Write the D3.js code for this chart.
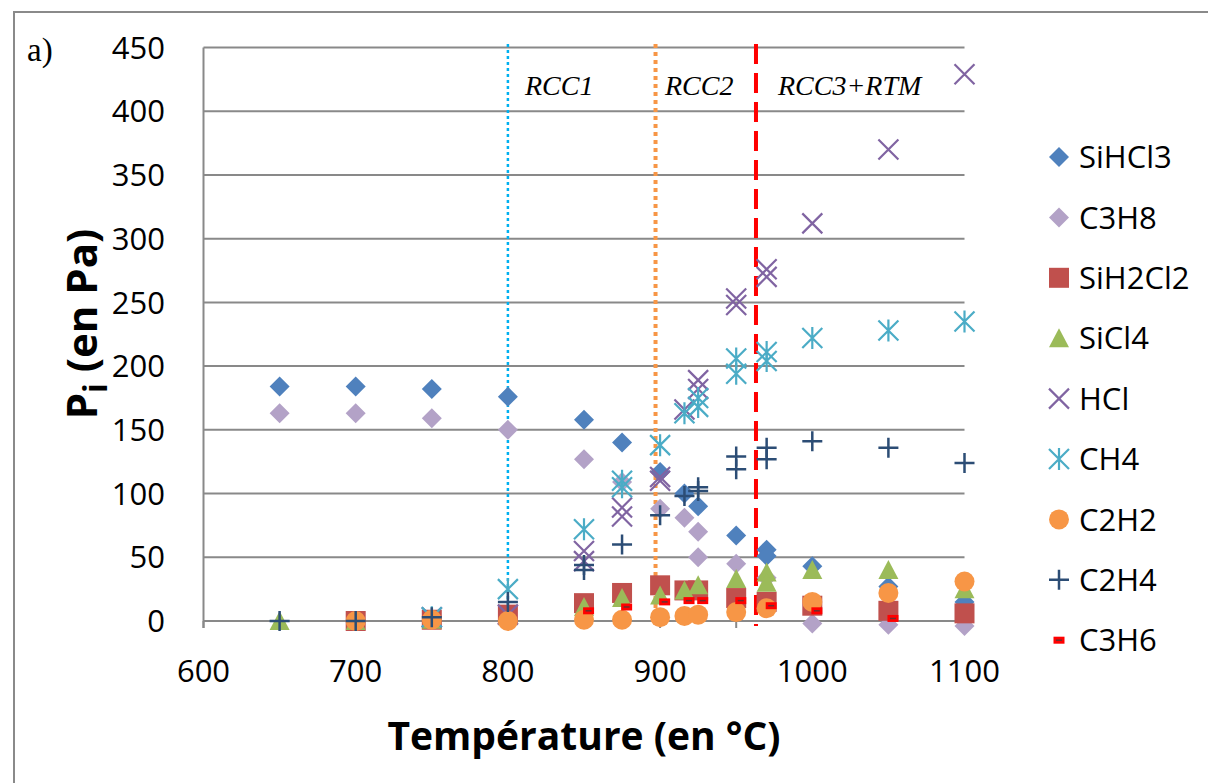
<!DOCTYPE html>
<html><head><meta charset="utf-8">
<script src="https://cdn.jsdelivr.net/npm/d3@7"></script>
<style>body{margin:0;background:#fff;}svg{display:block;}</style>
</head><body>
<svg id="chart" width="1208" height="783"></svg>
<script>
// ---- data ----
const seriesNames = ["SiHCl3","C3H8","SiH2Cl2","SiCl4","HCl","CH4","C2H2","C2H4","C3H6"];
const tSiHCl3 = [650,700,750,800,850,875,900,916,925,950,970,970,1000,1050,1100];
const vSiHCl3 = [184,184,182,176,158,140,117,100,90,67,56,51,43,27,15];
const tC3H8 = [650,700,750,800,850,875,900,916,925,925,950,970,1000,1050,1100];
const vC3H8 = [163,163,159,150,127,109,88,81,70,50,45,34,-2,-3,-4];
const tSiH2Cl2 = [700,750,800,850,875,900,916,925,950,970,1000,1050,1100];
const vSiH2Cl2 = [0,1,5,14,22,28,24,24,18,15,12,8,6];
const tSiCl4 = [650,700,750,850,875,900,916,925,950,970,970,1000,1050,1100];
const vSiCl4 = [0,0,1,11,18,20,24,28,33,38,30,40,40,25];
const tHCl = [750,800,850,850,875,875,900,900,916,925,925,950,950,970,970,1000,1050,1100];
const vHCl = [3,5,55,47,89,82,113,110,166,189,182,253,248,276,270,312,370,429];
const tCH4 = [750,800,850,875,875,900,916,925,925,950,950,970,970,1000,1050,1100];
const vCH4 = [3,25,72,110,105,138,163,175,168,206,194,211,204,222,228,235];
const tC2H2 = [700,750,800,850,875,900,916,925,950,970,1000,1050,1100];
const vC2H2 = [0,1,0,1,1,3,4,5,7,10,15,22,31];
const tC2H4 = [650,700,750,800,850,850,875,900,916,925,925,950,950,970,970,1000,1050,1100];
const vC2H4 = [0,0,3,15,44,40,60,83,98,105,102,129,119,136,127,141,136,124];
const tC3H6 = [853,878,903,919,928,953,973,1003,1053];
const vC3H6 = [8,11,15,16,16,16,12,8,2];
const xTicks = [600,700,800,900,1000,1100];
const yTicks = [0,50,100,150,200,250,300,350,400,450];
const regimeLines = [800,897,963];
const regimeLabels = ["RCC1","RCC2","RCC3+RTM"];
const xTitle = "Température (en °C)";
const panelLabel = "a)";

// ---- styling ----
const colors = {SiHCl3:"#4F81BD",C3H8:"#B3A2C7",SiH2Cl2:"#C0504D",SiCl4:"#9BBB59",HCl:"#8064A2",CH4:"#4BACC6",C2H2:"#F79646",C2H4:"#2C4D75",C3H6:"#FF0000"};
const shapes = {SiHCl3:"diamond",C3H8:"diamond",SiH2Cl2:"square",SiCl4:"triangle",HCl:"x",CH4:"star",C2H2:"circle",C2H4:"plus",C3H6:"dash"};
const data = {
  SiHCl3: tSiHCl3.map((t,i)=>[t,vSiHCl3[i]]),
  C3H8: tC3H8.map((t,i)=>[t,vC3H8[i]]),
  SiH2Cl2: tSiH2Cl2.map((t,i)=>[t,vSiH2Cl2[i]]),
  SiCl4: tSiCl4.map((t,i)=>[t,vSiCl4[i]]),
  HCl: tHCl.map((t,i)=>[t,vHCl[i]]),
  CH4: tCH4.map((t,i)=>[t,vCH4[i]]),
  C2H2: tC2H2.map((t,i)=>[t,vC2H2[i]]),
  C2H4: tC2H4.map((t,i)=>[t,vC2H4[i]]),
  C3H6: tC3H6.map((t,i)=>[t,vC3H6[i]])
};

const svg = d3.select("#chart");
const fontSans = "'Open Sans', sans-serif";
const fontSerif = "'Liberation Serif', 'Times New Roman', serif";

// frame
svg.append("rect").attr("x",14).attr("y",12).attr("width",1400).attr("height",1000)
  .attr("fill","none").attr("stroke","#8a8a8a").attr("stroke-width",2);

const x = d3.scaleLinear().domain([600,1100]).range([203.5,964.5]);
const y = d3.scaleLinear().domain([0,450]).range([621,47.5]);

// gridlines
svg.append("g").selectAll("line").data(yTicks).join("line")
  .attr("x1",x(600)).attr("x2",x(1100)).attr("y1",d=>y(d)).attr("y2",d=>y(d))
  .attr("stroke","#898989").attr("stroke-width",2);
// y axis line
svg.append("line").attr("x1",x(600)).attr("x2",x(600)).attr("y1",y(450)).attr("y2",y(0)+7)
  .attr("stroke","#898989").attr("stroke-width",2);
// x ticks
svg.append("g").selectAll("line").data(d3.range(600,1101,50)).join("line")
  .attr("x1",d=>x(d)).attr("x2",d=>x(d)).attr("y1",y(0)).attr("y2",y(0)+7)
  .attr("stroke","#898989").attr("stroke-width",2);

// tick labels
svg.append("g").selectAll("text").data(yTicks).join("text")
  .attr("x",165).attr("y",d=>y(d)).attr("dy","0.36em").attr("text-anchor","end")
  .attr("font-family",fontSans).attr("font-size",31).attr("fill","#000").text(d=>d);
svg.append("g").selectAll("text").data(xTicks).join("text")
  .attr("x",d=>x(d)).attr("y",682).attr("text-anchor","middle")
  .attr("font-family",fontSans).attr("font-size",31).attr("fill","#000").text(d=>d);

// axis titles
svg.append("text").attr("x",584).attr("y",750).attr("text-anchor","middle")
  .attr("font-family",fontSans).attr("font-weight","bold").attr("font-size",39).text(xTitle);
const yt = svg.append("text").attr("transform","translate(97,324) rotate(-90)").attr("text-anchor","middle")
  .attr("font-family",fontSans).attr("font-weight","bold").attr("font-size",42);
yt.append("tspan").text("P");
yt.append("tspan").attr("dy",10).attr("font-size",32).text("i");
yt.append("tspan").attr("dy",-10).text(" (en Pa)");

// panel label
svg.append("text").attr("x",27).attr("y",61).attr("font-family",fontSerif).attr("font-size",33).text(panelLabel);

// regime lines
const lineStyles = [
  {color:"#00B0F0",w:2.5,dash:"3,3"},
  {color:"#F79646",w:4,dash:"4,4"},
  {color:"#FF0000",w:4,dash:"20,9"}
];
regimeLines.forEach((t,i)=>{
  svg.append("line").attr("x1",x(t)).attr("x2",x(t)).attr("y1",44).attr("y2",i==2?626:621)
    .attr("stroke",lineStyles[i].color).attr("stroke-width",lineStyles[i].w).attr("stroke-dasharray",lineStyles[i].dash);
});
// regime labels
const labelXs = [525,665,778];
regimeLabels.forEach((l,i)=>{
  svg.append("text").attr("x",labelXs[i]).attr("y",95).attr("font-family",fontSerif)
    .attr("font-style","italic").attr("font-size",28).attr("fill","#000").text(l);
});

// marker drawing
function drawMarker(g, shape, color, cx, cy){
  const s = 10;
  switch(shape){
    case "diamond":
      g.append("path").attr("d",`M${cx},${cy-s}L${cx+s},${cy}L${cx},${cy+s}L${cx-s},${cy}Z`).attr("fill",color);
      break;
    case "square":
      g.append("rect").attr("x",cx-s).attr("y",cy-s).attr("width",2*s).attr("height",2*s).attr("fill",color);
      break;
    case "triangle":
      g.append("path").attr("d",`M${cx},${cy-s}L${cx+s},${cy+s-1}L${cx-s},${cy+s-1}Z`).attr("fill",color);
      break;
    case "circle":
      g.append("circle").attr("cx",cx).attr("cy",cy).attr("r",s).attr("fill",color);
      break;
    case "x":
      g.append("path").attr("d",`M${cx-s},${cy-s}L${cx+s},${cy+s}M${cx+s},${cy-s}L${cx-s},${cy+s}`)
        .attr("stroke",color).attr("stroke-width",2.2).attr("fill","none");
      break;
    case "star":
      g.append("path").attr("d",`M${cx-s},${cy-s}L${cx+s},${cy+s}M${cx+s},${cy-s}L${cx-s},${cy+s}M${cx},${cy-s-1}L${cx},${cy+s+1}`)
        .attr("stroke",color).attr("stroke-width",2.2).attr("fill","none");
      break;
    case "plus":
      g.append("path").attr("d",`M${cx-s},${cy}L${cx+s},${cy}M${cx},${cy-s}L${cx},${cy+s}`)
        .attr("stroke",color).attr("stroke-width",2.5).attr("fill","none");
      break;
    case "dash":
      g.append("rect").attr("x",cx-5.5).attr("y",cy-3.5).attr("width",11).attr("height",7).attr("fill",color);
      g.append("line").attr("x1",cx-3).attr("x2",cx+3).attr("y1",cy).attr("y2",cy).attr("stroke","#6b3030").attr("stroke-width",1.5);
      break;
  }
}

const pts = svg.append("g");
seriesNames.forEach(name=>{
  const g = pts.append("g");
  data[name].forEach(([t,v])=>drawMarker(g, shapes[name], colors[name], x(t), y(v)));
});

// legend
const leg = svg.append("g");
seriesNames.forEach((name,i)=>{
  const cy = 157 + i*60.4;
  drawMarker(leg, shapes[name], colors[name], 1059, cy);
  leg.append("text").attr("x",1079).attr("y",cy).attr("dy","0.36em")
    .attr("font-family",fontSans).attr("font-size",31).attr("fill","#000").text(name);
});
</script>
</body></html>
